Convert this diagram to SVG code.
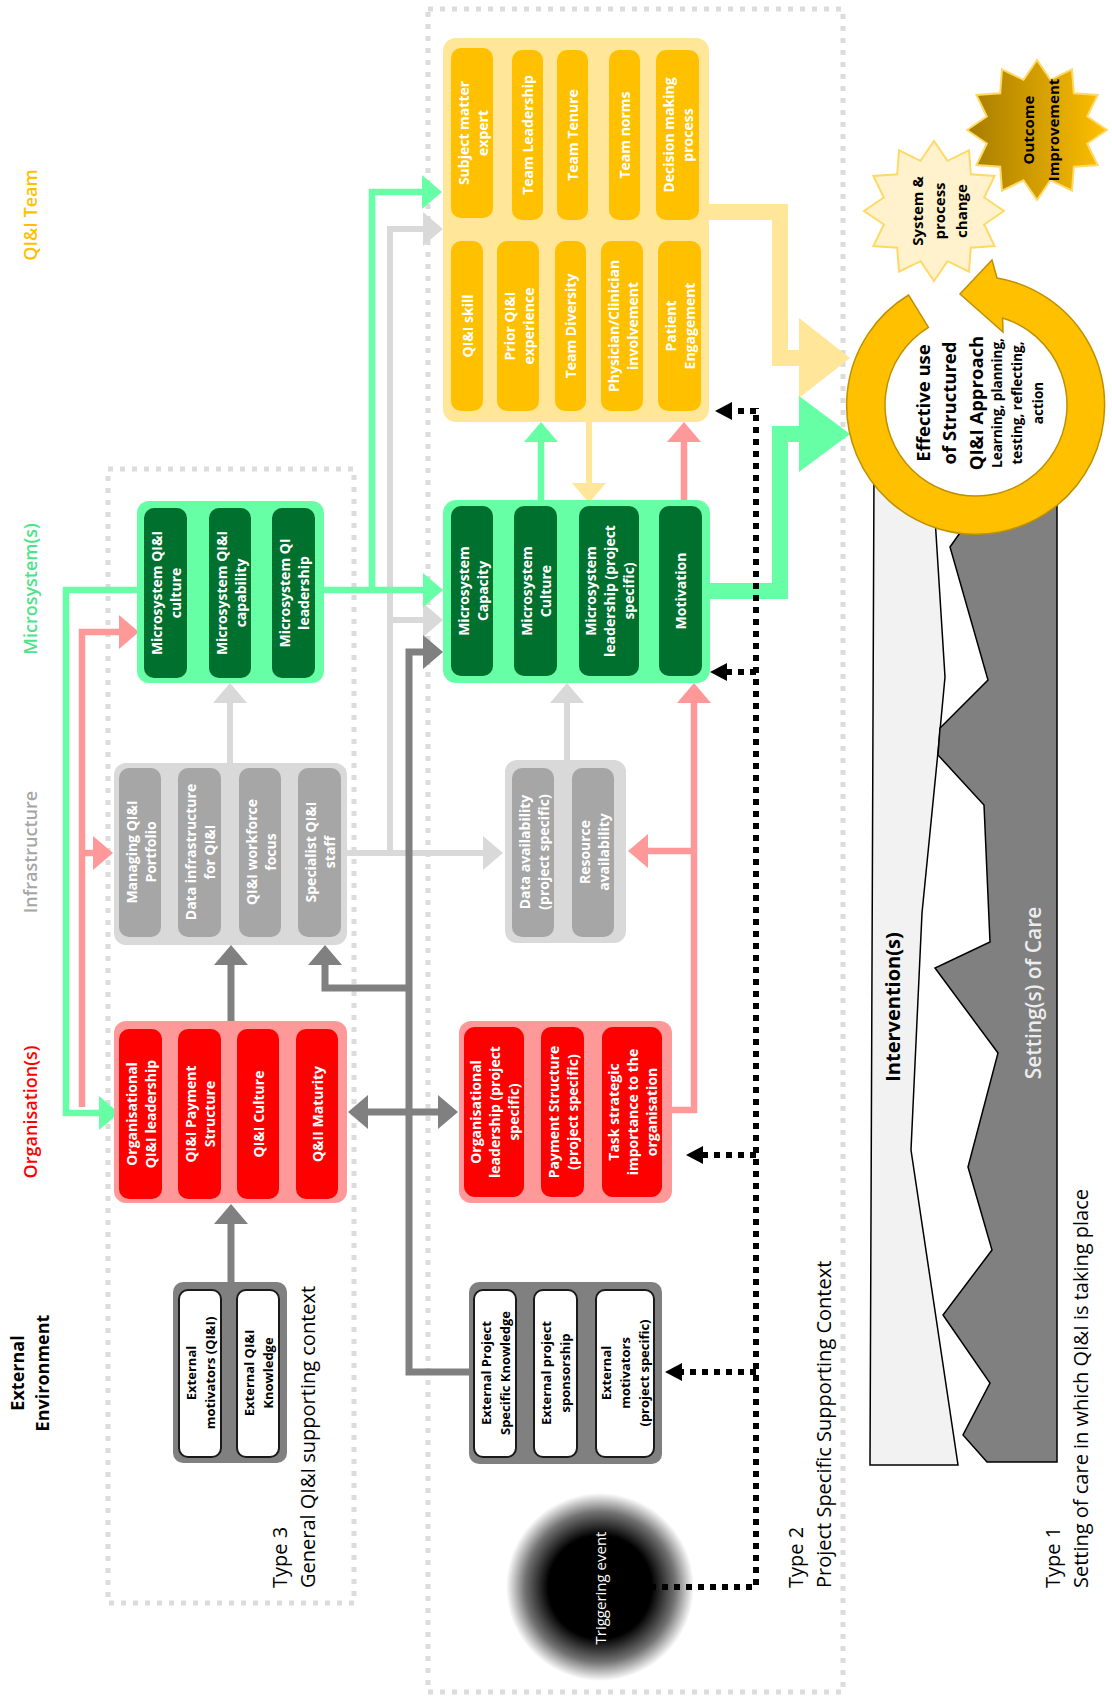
<svg xmlns="http://www.w3.org/2000/svg" width="1112" height="1697" viewBox="0 0 1112 1697">
<defs>
<style>
.t{font-family:"Open Sans","Liberation Sans",sans-serif;}
.nl{font-family:"Open Sans","Liberation Sans",sans-serif;font-weight:700;font-size:14px;fill:#fff;text-anchor:middle;dominant-baseline:central;}
.nb{font-family:"Open Sans","Liberation Sans",sans-serif;font-weight:700;font-size:13px;fill:#000;text-anchor:middle;dominant-baseline:central;}
.lab{font-family:"Open Sans","Liberation Sans",sans-serif;font-weight:600;font-size:18px;text-anchor:middle;dominant-baseline:central;}
.typ{font-family:"Open Sans","Liberation Sans",sans-serif;font-size:20px;fill:#000;dominant-baseline:central;}
.dot{fill:none;stroke:#dcdcdc;stroke-width:5;stroke-dasharray:5 7;}
.c{fill:none;stroke-linejoin:miter;}
.cg{stroke:#66FFA6;stroke-width:6.5;}
.cp{stroke:#FF9999;stroke-width:6.5;}
.cl{stroke:#D9D9D9;stroke-width:6;}
.cd{stroke:#808080;stroke-width:7;}
.cy{stroke:#FFE699;stroke-width:6;}
.cb{stroke:#000;stroke-width:6;stroke-dasharray:6 6;}
.yo{fill:#FFE699;}.yi{fill:#FFC000;}
.go{fill:#66FFA6;}.gi{fill:#00702F;}
.ro{fill:#FF9999;}.ri{fill:#FF0000;}
.ao{fill:#D9D9D9;}.ai{fill:#A6A6A6;}
.eo{fill:#808080;}.ei{fill:#fff;stroke:#1a1a1a;stroke-width:2;}
</style>
<marker id="mg" viewBox="0 -17 20 34" refX="0" refY="0" markerWidth="20" markerHeight="34" markerUnits="userSpaceOnUse" orient="auto-start-reverse"><path d="M0,-17L20,0L0,17Z" fill="#66FFA6"/></marker>
<marker id="mp" viewBox="0 -17 20 34" refX="0" refY="0" markerWidth="20" markerHeight="34" markerUnits="userSpaceOnUse" orient="auto-start-reverse"><path d="M0,-17L20,0L0,17Z" fill="#FF9999"/></marker>
<marker id="ml" viewBox="0 -17 20 34" refX="0" refY="0" markerWidth="20" markerHeight="34" markerUnits="userSpaceOnUse" orient="auto-start-reverse"><path d="M0,-17L20,0L0,17Z" fill="#D9D9D9"/></marker>
<marker id="md" viewBox="0 -17 20 34" refX="0" refY="0" markerWidth="20" markerHeight="34" markerUnits="userSpaceOnUse" orient="auto-start-reverse"><path d="M0,-17L20,0L0,17Z" fill="#808080"/></marker>
<marker id="my" viewBox="0 -17 20 34" refX="0" refY="0" markerWidth="20" markerHeight="34" markerUnits="userSpaceOnUse" orient="auto-start-reverse"><path d="M0,-17L20,0L0,17Z" fill="#FFE699"/></marker>
<marker id="mb" viewBox="0 -9 17 18" refX="0" refY="0" markerWidth="17" markerHeight="18" markerUnits="userSpaceOnUse" orient="auto"><path d="M0,-9L17,0L0,9Z" fill="#000"/></marker>
<marker id="mgB" viewBox="0 -38 51 76" refX="0" refY="0" markerWidth="51" markerHeight="76" markerUnits="userSpaceOnUse" orient="auto"><path d="M0,-38L51,0L0,38Z" fill="#66FFA6"/></marker>
<marker id="myB" viewBox="0 -40 51 80" refX="0" refY="0" markerWidth="51" markerHeight="80" markerUnits="userSpaceOnUse" orient="auto"><path d="M0,-40L51,0L0,40Z" fill="#FFE699"/></marker>
<radialGradient id="trig" cx="0.5" cy="0.5" r="0.5">
<stop offset="0" stop-color="#000" stop-opacity="1"/>
<stop offset="0.55" stop-color="#000" stop-opacity="1"/>
<stop offset="0.8" stop-color="#000" stop-opacity="0.55"/>
<stop offset="1" stop-color="#000" stop-opacity="0"/>
</radialGradient>
<linearGradient id="gold" x1="0" y1="0" x2="1" y2="0">
<stop offset="0" stop-color="#A67C00"/>
<stop offset="1" stop-color="#FFC000"/>
</linearGradient>
</defs>
<rect width="1112" height="1697" fill="#fff"/>

<!-- context boxes -->
<g id="type2-context">
<rect class="dot" x="428" y="9" width="415" height="1683"/>
<text class="typ" transform="translate(809,1588) rotate(-90)"><tspan x="0" y="-14">Type 2</tspan><tspan x="0" y="14">Project Specific Supporting Context</tspan></text>
</g>
<g id="type3-context">
<rect class="dot" x="108" y="469" width="246" height="1134"/>
<text class="typ" transform="translate(293,1588) rotate(-90)"><tspan x="0" y="-14">Type 3</tspan><tspan x="0" y="14">General QI&amp;I supporting context</tspan></text>
</g>

<!-- row labels -->
<g id="row-labels">
<text class="lab" fill="#FFC000" transform="translate(30,215) rotate(-90)">QI&amp;I Team</text>
<text class="lab" fill="#4DE38A" transform="translate(30,589) rotate(-90)">Microsystem(s)</text>
<text class="lab" fill="#A6A6A6" transform="translate(30,852) rotate(-90)">Infrastructure</text>
<text class="lab" fill="#FF0000" transform="translate(30,1112) rotate(-90)">Organisation(s)</text>
<text class="lab" fill="#000" style="font-weight:700" transform="translate(29,1373) rotate(-90)"><tspan x="0" y="-12.5">External</tspan><tspan x="0" y="12.5">Environment</tspan></text>
</g>

<!-- Type 1 panel -->
<g id="setting-of-care">
<polygon points="874,470 932,470 945,677 938,752 922,913 911,1150 958,1465 870,1465" fill="#F2F2F2" stroke="#000" stroke-width="1.5"/>
<polygon points="962,470 962,530 950,547 988,680 940,728 938,755 984,805 990,942 935,968 998,1053 968,1167 992,1250 943,1315 990,1383 963,1435 987,1462 1057,1462 1057,470" fill="#808080" stroke="#000" stroke-width="1.5"/>
<text class="t" font-weight="700" font-size="20" fill="#000" text-anchor="middle" dominant-baseline="central" transform="translate(892,1007) rotate(-90)">Intervention(s)</text>
<text class="t" font-weight="600" font-size="21" fill="#EDEDED" text-anchor="middle" dominant-baseline="central" transform="translate(1033,993) rotate(-90)">Setting(s) of Care</text>
<text class="typ" transform="translate(1066,1588) rotate(-90)"><tspan x="0" y="-14">Type 1</tspan><tspan x="0" y="14">Setting of care in which QI&amp;I is taking place</tspan></text>
</g>

<!-- connectors -->
<g id="connectors">
<path class="c cg" d="M137,590H66V1113H99" marker-end="url(#mg)"/>
<path class="c cp" d="M82,1107V632H119" marker-end="url(#mp)"/>
<path class="c cp" d="M82,853H93" marker-end="url(#mp)"/>
<path class="c cl" d="M230,763V703" marker-end="url(#ml)"/>
<path class="c cd" d="M231,1282V1224" marker-end="url(#md)"/>
<path class="c cd" d="M231,1021V965" marker-end="url(#md)"/>
<path class="c cd" d="M409,988H325V965" marker-end="url(#md)"/>
<path class="c cl" d="M347,853H483" marker-end="url(#ml)"/>
<path class="c cl" d="M390,853V229H423" marker-end="url(#ml)"/>
<path class="c cl" d="M390,620H423" marker-end="url(#ml)"/>
<path class="c cd" d="M469,1372H409V652H423" marker-end="url(#md)"/>
<path class="c cd" d="M368,1112H438" marker-start="url(#md)" marker-end="url(#md)"/>
<path class="c cg" d="M324,590H423" marker-end="url(#mg)"/>
<path class="c cg" d="M372,590V192H422" marker-end="url(#mg)"/>
<path class="c cg" d="M541,500V442" marker-end="url(#mg)"/>
<path class="c cy" d="M589,422V483" marker-end="url(#my)"/>
<path class="c cp" d="M684,500V442" marker-end="url(#mp)"/>
<path class="c cl" d="M567,760V703" marker-end="url(#ml)"/>
<path class="c cp" d="M662,1110H694V703" marker-end="url(#mp)"/>
<path class="c cp" d="M694,851H648" marker-end="url(#mp)"/>
<path class="c" stroke="#FFE699" stroke-width="16" d="M709,212H780V358H799" marker-end="url(#myB)"/>
<path class="c" stroke="#66FFA6" stroke-width="16" d="M710,591H780V434H799" marker-end="url(#mgB)"/>
<path class="c cb" d="M650,1587H756V408"/>
<path class="c cb" d="M756,411H732" marker-end="url(#mb)"/>
<path class="c cb" d="M756,672H727" marker-end="url(#mb)"/>
<path class="c cb" d="M756,1155H703" marker-end="url(#mb)"/>
<path class="c cb" d="M756,1372H682" marker-end="url(#mb)"/>
</g>

<!-- QI&I Team -->
<g id="qii-team">
<rect class="yo" x="443" y="38" width="266" height="384" rx="13"/>
<rect class="yi" x="451" y="48" width="42" height="170" rx="10"/>
<rect class="yi" x="512" y="50" width="31" height="170" rx="10"/>
<rect class="yi" x="557" y="50" width="31" height="170" rx="10"/>
<rect class="yi" x="609" y="50" width="31" height="170" rx="10"/>
<rect class="yi" x="656" y="50" width="43" height="170" rx="10"/>
<rect class="yi" x="451" y="241" width="32" height="170" rx="10"/>
<rect class="yi" x="497" y="241" width="42" height="170" rx="10"/>
<rect class="yi" x="555" y="241" width="31" height="170" rx="10"/>
<rect class="yi" x="601" y="241" width="42" height="170" rx="10"/>
<rect class="yi" x="658" y="241" width="43" height="170" rx="10"/>
<text class="nl" transform="translate(472,133) rotate(-90)"><tspan x="0" y="-9.5">Subject matter</tspan><tspan x="0" y="9.5">expert</tspan></text>
<text class="nl" transform="translate(527.5,135) rotate(-90)">Team Leadership</text>
<text class="nl" transform="translate(572.5,135) rotate(-90)">Team Tenure</text>
<text class="nl" transform="translate(624.5,135) rotate(-90)">Team norms</text>
<text class="nl" transform="translate(677.5,135) rotate(-90)"><tspan x="0" y="-9.5">Decision making</tspan><tspan x="0" y="9.5">process</tspan></text>
<text class="nl" transform="translate(467,326) rotate(-90)">QI&amp;I skill</text>
<text class="nl" transform="translate(518,326) rotate(-90)"><tspan x="0" y="-9.5">Prior QI&amp;I</tspan><tspan x="0" y="9.5">experience</tspan></text>
<text class="nl" transform="translate(570.5,326) rotate(-90)">Team Diversity</text>
<text class="nl" transform="translate(622,326) rotate(-90)"><tspan x="0" y="-9.5">Physician/Clinician</tspan><tspan x="0" y="9.5">involvement</tspan></text>
<text class="nl" transform="translate(679.5,326) rotate(-90)"><tspan x="0" y="-9.5">Patient</tspan><tspan x="0" y="9.5">Engagement</tspan></text>
</g>

<!-- Microsystem (general) -->
<g id="microsystem-general">
<rect class="go" x="137" y="501" width="187" height="182" rx="12"/>
<rect class="gi" x="144" y="508" width="43" height="170" rx="10"/>
<rect class="gi" x="209" y="508" width="42" height="170" rx="10"/>
<rect class="gi" x="272" y="508" width="43" height="170" rx="10"/>
<text class="nl" transform="translate(165.5,593) rotate(-90)"><tspan x="0" y="-9.5">Microsystem QI&amp;I</tspan><tspan x="0" y="9.5">culture</tspan></text>
<text class="nl" transform="translate(230,593) rotate(-90)"><tspan x="0" y="-9.5">Microsystem QI&amp;I</tspan><tspan x="0" y="9.5">capability</tspan></text>
<text class="nl" transform="translate(293.5,593) rotate(-90)"><tspan x="0" y="-9.5">Microsystem QI</tspan><tspan x="0" y="9.5">leadership</tspan></text>
</g>

<!-- Infrastructure (general) -->
<g id="infrastructure-general">
<rect class="ao" x="114" y="763" width="233" height="182" rx="12"/>
<rect class="ai" x="119" y="768" width="42" height="169" rx="10"/>
<rect class="ai" x="178" y="768" width="43" height="169" rx="10"/>
<rect class="ai" x="239" y="768" width="42" height="169" rx="10"/>
<rect class="ai" x="298" y="768" width="43" height="169" rx="10"/>
<text class="nl" fill="#F4F4F4" transform="translate(140,852) rotate(-90)"><tspan x="0" y="-9.5">Managing QI&amp;I</tspan><tspan x="0" y="9.5">Portfolio</tspan></text>
<text class="nl" transform="translate(199.5,852) rotate(-90)"><tspan x="0" y="-9.5">Data infrastructure</tspan><tspan x="0" y="9.5">for QI&amp;I</tspan></text>
<text class="nl" transform="translate(260,852) rotate(-90)"><tspan x="0" y="-9.5">QI&amp;I workforce</tspan><tspan x="0" y="9.5">focus</tspan></text>
<text class="nl" transform="translate(319.5,852) rotate(-90)"><tspan x="0" y="-9.5">Specialist QI&amp;I</tspan><tspan x="0" y="9.5">staff</tspan></text>
</g>

<!-- Organisation (general) -->
<g id="organisation-general">
<rect class="ro" x="114" y="1021" width="233" height="182" rx="12"/>
<rect class="ri" x="119" y="1029" width="43" height="170" rx="10"/>
<rect class="ri" x="178" y="1029" width="43" height="170" rx="10"/>
<rect class="ri" x="237" y="1029" width="42" height="170" rx="10"/>
<rect class="ri" x="296" y="1029" width="42" height="170" rx="10"/>
<text class="nl" transform="translate(140.5,1114) rotate(-90)"><tspan x="0" y="-9.5">Organisational</tspan><tspan x="0" y="9.5">QI&amp;I leadership</tspan></text>
<text class="nl" transform="translate(199.5,1114) rotate(-90)"><tspan x="0" y="-9.5">QI&amp;I Payment</tspan><tspan x="0" y="9.5">Structure</tspan></text>
<text class="nl" transform="translate(258,1114) rotate(-90)">QI&amp;I Culture</text>
<text class="nl" transform="translate(317,1114) rotate(-90)">Q&amp;II Maturity</text>
</g>

<!-- External (general) -->
<g id="external-general">
<rect class="eo" x="173" y="1282" width="114" height="181" rx="10"/>
<rect class="ei" x="179" y="1290" width="42" height="167" rx="9"/>
<rect class="ei" x="237" y="1290" width="42" height="167" rx="9"/>
<text class="nb" transform="translate(200,1373) rotate(-90)"><tspan x="0" y="-9.5">External</tspan><tspan x="0" y="9.5">motivators (QI&amp;I)</tspan></text>
<text class="nb" transform="translate(258,1373) rotate(-90)"><tspan x="0" y="-9.5">External QI&amp;I</tspan><tspan x="0" y="9.5">Knowledge</tspan></text>
</g>

<!-- Microsystem (project) -->
<g id="microsystem-project">
<rect class="go" x="443" y="500" width="267" height="183" rx="13"/>
<rect class="gi" x="451" y="506" width="42" height="170" rx="10"/>
<rect class="gi" x="514" y="506" width="43" height="170" rx="10"/>
<rect class="gi" x="579" y="506" width="60" height="170" rx="10"/>
<rect class="gi" x="659" y="506" width="43" height="170" rx="10"/>
<text class="nl" transform="translate(472,591) rotate(-90)"><tspan x="0" y="-9.5">Microsystem</tspan><tspan x="0" y="9.5">Capacity</tspan></text>
<text class="nl" transform="translate(535.5,591) rotate(-90)"><tspan x="0" y="-9.5">Microsystem</tspan><tspan x="0" y="9.5">Culture</tspan></text>
<text class="nl" transform="translate(609,591) rotate(-90)"><tspan x="0" y="-19">Microsystem</tspan><tspan x="0" y="0">leadership (project</tspan><tspan x="0" y="19">specific)</tspan></text>
<text class="nl" transform="translate(680.5,591) rotate(-90)">Motivation</text>
</g>

<!-- Infrastructure (project) -->
<g id="infrastructure-project">
<rect class="ao" x="505" y="760" width="121" height="183" rx="12"/>
<rect class="ai" x="512" y="768" width="42" height="169" rx="10"/>
<rect class="ai" x="572" y="768" width="42" height="169" rx="10"/>
<text class="nl" transform="translate(533,852) rotate(-90)"><tspan x="0" y="-9.5">Data availability</tspan><tspan x="0" y="9.5">(project specific)</tspan></text>
<text class="nl" transform="translate(593,852) rotate(-90)"><tspan x="0" y="-9.5">Resource</tspan><tspan x="0" y="9.5">availability</tspan></text>
</g>

<!-- Organisation (project) -->
<g id="organisation-project">
<rect class="ro" x="459" y="1021" width="213" height="182" rx="12"/>
<rect class="ri" x="464" y="1027" width="60" height="170" rx="11"/>
<rect class="ri" x="541" y="1027" width="43" height="170" rx="10"/>
<rect class="ri" x="602" y="1027" width="60" height="170" rx="11"/>
<text class="nl" transform="translate(494,1112) rotate(-90)"><tspan x="0" y="-19">Organisational</tspan><tspan x="0" y="0">leadership (project</tspan><tspan x="0" y="19">specific)</tspan></text>
<text class="nl" transform="translate(562.5,1112) rotate(-90)"><tspan x="0" y="-9.5">Payment Structure</tspan><tspan x="0" y="9.5">(project specific)</tspan></text>
<text class="nl" transform="translate(632,1112) rotate(-90)"><tspan x="0" y="-19">Task strategic</tspan><tspan x="0" y="0">importance to the</tspan><tspan x="0" y="19">organisation</tspan></text>
</g>

<!-- External (project) -->
<g id="external-project">
<rect class="eo" x="469" y="1282" width="193" height="182" rx="10"/>
<rect class="ei" x="474" y="1290" width="42" height="167" rx="9"/>
<rect class="ei" x="534" y="1290" width="43" height="167" rx="9"/>
<rect class="ei" x="596" y="1290" width="58" height="167" rx="9"/>
<text class="nb" transform="translate(495,1373) rotate(-90)"><tspan x="0" y="-9.5">External Project</tspan><tspan x="0" y="9.5">Specific Knowledge</tspan></text>
<text class="nb" transform="translate(555.5,1373) rotate(-90)"><tspan x="0" y="-9.5">External project</tspan><tspan x="0" y="9.5">sponsorship</tspan></text>
<text class="nb" transform="translate(625,1373) rotate(-90)"><tspan x="0" y="-19">External</tspan><tspan x="0" y="0">motivators</tspan><tspan x="0" y="19">(project specific)</tspan></text>
</g>

<!-- Triggering event -->
<g id="triggering-event">
<circle cx="600" cy="1587" r="94" fill="url(#trig)"/>
<text class="t" font-size="15" fill="#fff" text-anchor="middle" dominant-baseline="central" transform="translate(600,1588) rotate(-90)">Triggering event</text>
</g>

<!-- Structured approach cycle -->
<g id="structured-approach">
<circle cx="976" cy="405" r="92" fill="#fff"/>
<path d="M908.6,295A129,129 0 1 0 997,278L992,260L960,294L1003,332L1002.6,318A91,91 0 1 1 928.5,327.4Z" fill="#FFC000" stroke="#BF9000" stroke-width="1.5"/>
<text class="t" font-weight="700" text-anchor="middle" dominant-baseline="central" fill="#000" transform="translate(976,403) rotate(-90)"><tspan x="0" y="-54" font-size="18.5">Effective use</tspan><tspan x="0" y="-28" font-size="18.5">of Structured</tspan><tspan x="0" y="-1" font-size="18.5">QI&amp;I Approach</tspan><tspan x="0" y="21" font-size="13.5">Learning, planning,</tspan><tspan x="0" y="41" font-size="13.5">testing, reflecting,</tspan><tspan x="0" y="62" font-size="13.5">action</tspan></text>
</g>

<!-- System & process change -->
<g id="system-process-change">
<polygon points="1004,211 984.2,224.5 994.6,246 970.8,247.7 969,271.6 947.5,261.2 934,281 920.5,261.2 899,271.6 897.2,247.7 873.4,246 883.8,224.5 864,211 883.8,197.5 873.4,176 897.2,174.3 899,150.4 920.5,160.8 934,141 947.5,160.8 969,150.4 970.8,174.3 994.6,176 984.2,197.5" fill="#FFF2CC" stroke="#FFD966" stroke-width="2"/>
<text class="t" font-weight="700" font-size="15" text-anchor="middle" dominant-baseline="central" fill="#000" transform="translate(939,211) rotate(-90)"><tspan x="0" y="-22">System &amp;</tspan><tspan x="0" y="0">process</tspan><tspan x="0" y="22">change</tspan></text>
</g>

<!-- Outcome Improvement -->
<g id="outcome-improvement">
<polygon points="1107,130 1087.2,143.5 1097.6,165 1073.8,166.7 1072,190.6 1050.5,180.2 1037,200 1023.5,180.2 1002,190.6 1000.2,166.7 976.4,165 986.8,143.5 967,130 986.8,116.5 976.4,95 1000.2,93.3 1002,69.4 1023.5,79.8 1037,60 1050.5,79.8 1072,69.4 1073.8,93.3 1097.6,95 1087.2,116.5" fill="url(#gold)" stroke="#FFD966" stroke-width="2"/>
<text class="t" font-weight="700" font-size="15" text-anchor="middle" dominant-baseline="central" fill="#000" transform="translate(1040,130) rotate(-90)"><tspan x="0" y="-12">Outcome</tspan><tspan x="0" y="13">Improvement</tspan></text>
</g>
</svg>
